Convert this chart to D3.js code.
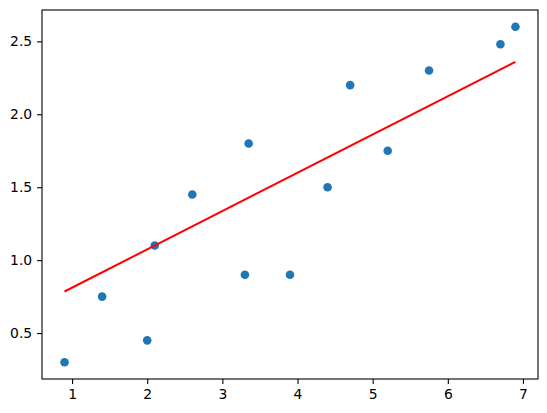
<!DOCTYPE html>
<html><head><meta charset="utf-8">
<script src="https://cdn.jsdelivr.net/npm/d3@7"></script>
<style>body{margin:0;background:#fff}</style>
</head><body>
<svg id="c" width="547" height="413"></svg>
<script>
const xValues = [0.9, 1.4, 2.0, 2.1, 2.6, 3.3, 3.35, 3.9, 4.4, 4.7, 5.2, 5.75, 6.7, 6.9];
const yValues = [0.3, 0.75, 0.45, 1.1, 1.45, 0.9, 1.8, 0.9, 1.5, 2.2, 1.75, 2.3, 2.48, 2.6];
const fitX = [0.9, 6.9];
const fitY = [0.785, 2.36];
const xTicks = [1, 2, 3, 4, 5, 6, 7];
const yTicks = [0.5, 1.0, 1.5, 2.0, 2.5];

const svg = d3.select("#c");
const L = 42, R = 538, T = 10, B = 379;
const x = d3.scaleLinear().domain([0.6, 7.2]).range([L, R]);
const y = d3.scaleLinear().domain([0.185, 2.715]).range([B, T]);

const font = "DejaVu Sans, sans-serif";

// points
svg.append("g").selectAll("circle").data(xValues).join("circle")
  .attr("cx", (d) => x(d)).attr("cy", (d, i) => y(yValues[i]))
  .attr("r", 4.3).attr("fill", "#1f77b4");

// fit line (drawn above points)
svg.append("path")
  .attr("d", d3.line().x(d => x(d[0])).y(d => y(d[1]))(fitX.map((v, i) => [v, fitY[i]])))
  .attr("stroke", "red").attr("stroke-width", 2).attr("fill", "none");

// axes
const xa = svg.append("g").attr("transform", `translate(0,${B})`)
  .call(d3.axisBottom(x).tickValues(xTicks).tickFormat(d3.format("d")).tickSize(4.9).tickPadding(4.9));
const ya = svg.append("g").attr("transform", `translate(${L},0)`)
  .call(d3.axisLeft(y).tickValues(yTicks).tickFormat(d3.format(".1f")).tickSize(4.9).tickPadding(4.9));
[xa, ya].forEach(g => {
  g.select(".domain").remove();
  g.selectAll("line").attr("stroke", "#000").attr("stroke-width", 1.1);
  g.selectAll("text").attr("font-family", font).attr("font-size", "13.9px").attr("fill", "#000");
});

// frame
svg.append("rect").attr("x", L).attr("y", T).attr("width", R - L).attr("height", B - T)
  .attr("fill", "none").attr("stroke", "#000").attr("stroke-width", 1.1);
</script>
</body></html>
